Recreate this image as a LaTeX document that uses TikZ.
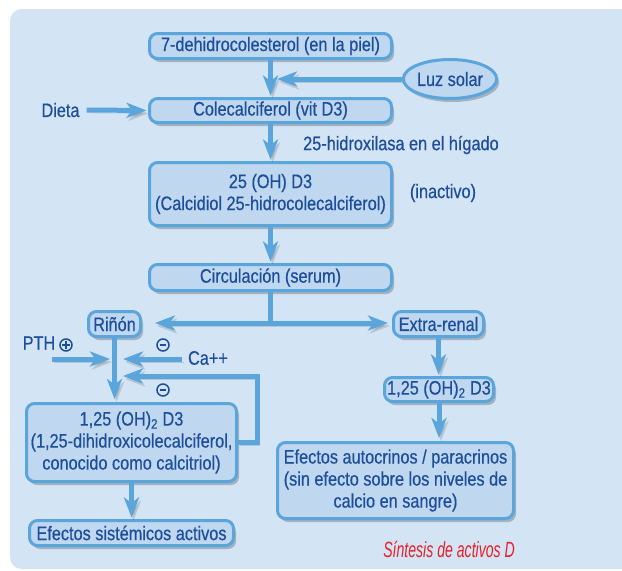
\documentclass[tikz,border=0pt]{standalone}
\usepackage{fontspec}
\setmainfont{Liberation Sans}[FakeStretch=0.835,FakeBold=0.5]
\newfontfamily\redfont{Liberation Sans}[FakeStretch=0.64]
\usetikzlibrary{arrows.meta,shapes.geometric,shadows,calc}
\definecolor{panel}{HTML}{D3E4F4}
\definecolor{boxfill}{HTML}{BFD7EF}
\definecolor{edge}{HTML}{5AA5DC}
\definecolor{ink}{HTML}{1D4E9C}
\definecolor{redt}{HTML}{E8202A}
\tikzset{
 box/.style={draw=edge, line width=3pt, fill=boxfill, rounded corners=8pt, text=ink, inner sep=0pt, align=center,
   font=\fontsize{19.5}{22}\selectfont,
   drop shadow={shadow xshift=2.5pt, shadow yshift=-3.5pt, fill=black, opacity=0.22}},
 lbl/.style={text=ink, inner sep=0pt, font=\fontsize{19.5}{22}\selectfont},
 flow/.style={draw=edge, line width=5pt, -{Stealth[length=20pt,width=15pt,inset=5.5pt]},
   preaction={draw=black, opacity=0.13, transform canvas={xshift=2pt,yshift=-3pt}}},
 bar/.style={draw=edge, line width=5pt,
   preaction={draw=black, opacity=0.13, transform canvas={xshift=2pt,yshift=-3pt}}},
 signo/.style={circle, draw=ink, line width=1.5pt, minimum size=12pt, inner sep=0pt},
 sgnminus/.style={signo, path picture={\draw[ink, line width=1.7pt] ([xshift=-3.4pt]path picture bounding box.center) -- ([xshift=3.4pt]path picture bounding box.center);}},
 sgnplus/.style={signo, path picture={\draw[ink, line width=1.3pt] ([xshift=-3.6pt]path picture bounding box.center) -- ([xshift=3.6pt]path picture bounding box.center) ([yshift=-3.6pt]path picture bounding box.center) -- ([yshift=3.6pt]path picture bounding box.center);}},
}
\begin{document}
\begin{tikzpicture}[x=1pt,y=-1pt]
\useasboundingbox (0,0) rectangle (622,571);
\fill[white] (0,0) rectangle (622,571);
\fill[panel, rounded corners=12pt] (10,9) rectangle (640,569);

% nodes
\node[box, minimum width=242pt, minimum height=25pt] (n1) at (270.5,46) {7-dehidrocolesterol (en la piel)};
\node[box, ellipse, minimum width=84pt, minimum height=39pt, rounded corners=0pt] (sun) at (450,79) {Luz solar};
\node[box, minimum width=242pt, minimum height=24pt] (n2) at (270.5,110.5) {Colecalciferol (vit D3)};
\node[lbl] (dieta) at (60.5,110) {Dieta};
\node[lbl, anchor=west] (hid) at (303,145) {25-hidroxilasa en el hígado};
\node[box, minimum width=242pt, minimum height=63pt] (n3) at (270.5,194) {25 (OH) D3\\(Calcidiol 25-hidrocolecalciferol)};
\node[lbl] (inac) at (443,193) {(inactivo)};
\node[box, minimum width=242pt, minimum height=26pt] (n4) at (270.5,277.5) {Circulación (serum)};
\node[box, minimum width=52pt, minimum height=25pt] (rinon) at (114.5,324) {Riñón};
\node[box, minimum width=90pt, minimum height=25pt] (extra) at (438.5,324) {Extra-renal};
\node[lbl] (pth) at (39,343) {PTH};
\node[sgnplus] (pl) at (66,345) {};
\node[sgnminus] (m1) at (163,345) {};
\node[lbl] (ca) at (208,358) {Ca++};
\node[sgnminus] (m2) at (163,390) {};
\node[box, minimum width=210pt, minimum height=78pt] (n5) at (131.5,442.5) {1,25 (OH)\textsubscript{2} D3\\(1,25-dihidroxicolecalciferol,\\conocido como calcitriol)};
\node[box, minimum width=204pt, minimum height=25pt] (n6) at (131.5,533) {Efectos sistémicos activos};
\node[box, minimum width=109pt, minimum height=24pt] (n7) at (439,389.5) {1,25 (OH)\textsubscript{2} D3};
\node[box, minimum width=236pt, minimum height=76pt] (n8) at (395.5,480.5) {Efectos autocrinos / paracrinos\\(sin efecto sobre los niveles de\\calcio en sangre)};
\node[anchor=east, inner sep=0pt, text=redt, font=\redfont\itshape\fontsize{22}{24}\selectfont] (tit) at (515,550) {Síntesis de activos D};

% coordinates
\coordinate (luzT) at (277,79);
\coordinate (j) at (270.5,323);
\coordinate (pthA) at (52,359);
\coordinate (pthB) at (110,359);
\coordinate (caT) at (123,359);
\coordinate (fbc) at (257,376);
\coordinate (fbT) at (123,376);

% connectors
\draw[flow, shorten >=1.5pt] (n1.south) -- (n2.north);
\draw[flow] (sun.west) -- (luzT);
\draw[flow, shorten >=1.5pt] ([xshift=7pt]dieta.east) -- (n2.west);
\draw[flow, shorten >=1.5pt] (n2.south) -- (n3.north);
\draw[flow, shorten >=1.5pt] (n3.south) -- (n4.north);
\draw[bar] (n4.south) -- (j);
\draw[flow, shorten >=13pt] (j) -- (j -| rinon.east);
\draw[flow, shorten >=4pt] (j) -- (j -| extra.west);
\draw[flow, shorten >=3pt] (rinon.south) -- (rinon.south |- n5.north);
\draw[flow] (pthA) -- (pthB);
\draw[flow] ([xshift=-6pt]ca.west |- caT) -- (caT);
\draw[flow] (n5.east) -| (fbc) -- (fbT);
\draw[flow, shorten >=1.5pt] (n5.south) -- (n6.north);
\draw[flow, shorten >=1.5pt] (extra.south) -- (extra.south |- n7.north);
\draw[flow, shorten >=3pt] (n7.south) -- (n7.south |- n8.north);
\end{tikzpicture}
\end{document}
